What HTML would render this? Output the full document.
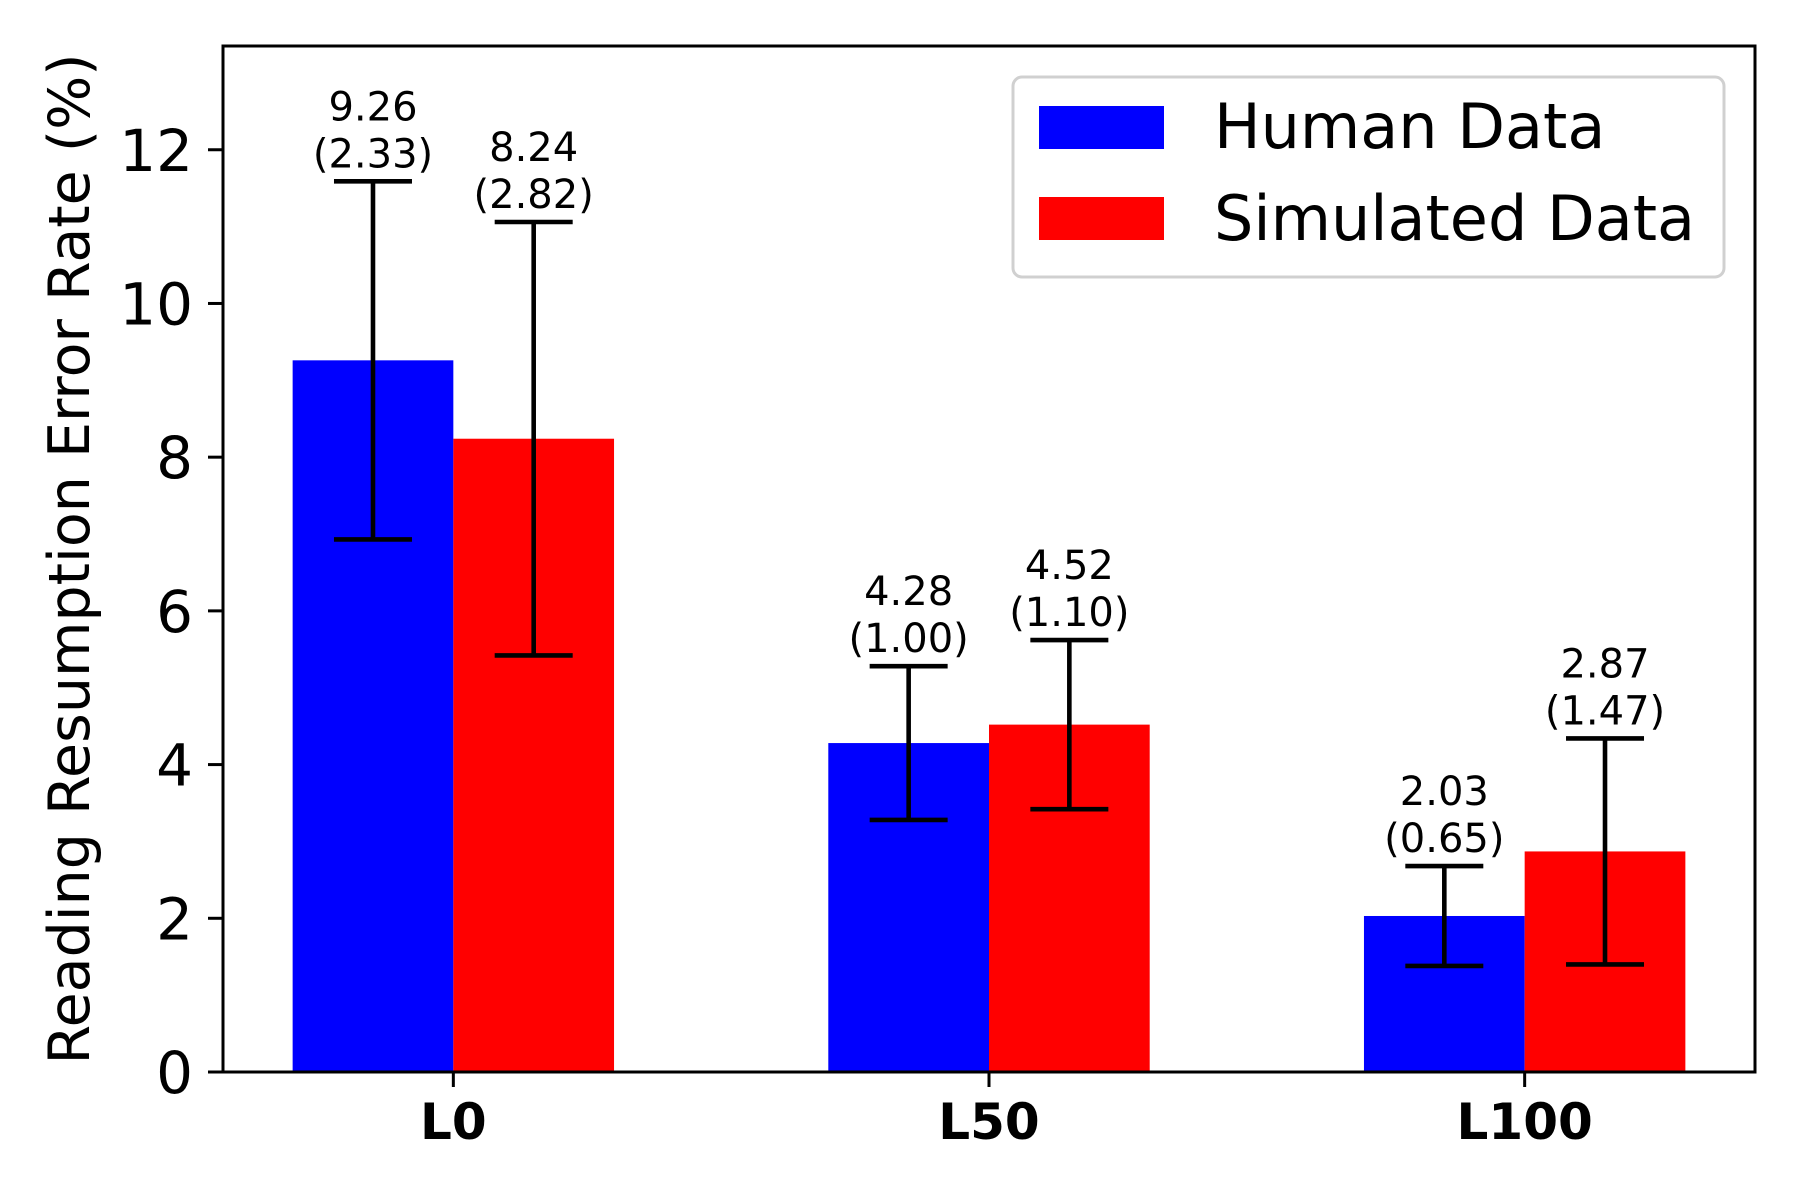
<!DOCTYPE html>
<html><head><meta charset="utf-8"><style>
html,body{margin:0;padding:0;background:#fff;}
svg{display:block;font-family:"DejaVu Sans","Liberation Sans",sans-serif;}
</style></head><body>
<svg id="chart" width="1800" height="1200" viewBox="0 0 1800 1200" xmlns="http://www.w3.org/2000/svg">
<g id="plot"></g>
</svg>
<script>
const categories = ["L0", "L50", "L100"];
const humanMeans = [9.26, 4.28, 2.03];
const humanSds = [2.33, 1.00, 0.65];
const simMeans = [8.24, 4.52, 2.87];
const simSds = [2.82, 1.10, 1.47];
const yTicks = [0, 2, 4, 6, 8, 10, 12];
const seriesNames = ["Human Data", "Simulated Data"];

const NS = "http://www.w3.org/2000/svg";
const L = 223, R = 1755, T = 46, B = 1072;
const xMin = -0.43, xMax = 2.43, yMin = 0, yMax = 13.35;
const xs = v => L + (v - xMin) / (xMax - xMin) * (R - L);
const ys = v => B - (v - yMin) / (yMax - yMin) * (B - T);
const barW = 0.3;
const g = document.getElementById('plot');
function mk(tag, attrs, parent) {
  const e = document.createElementNS(NS, tag);
  for (const k in attrs) e.setAttribute(k, attrs[k]);
  (parent || g).appendChild(e);
  return e;
}

const series = [
  {means: humanMeans, sds: humanSds, color: "#0000ff", off: -barW / 2, key: "human"},
  {means: simMeans, sds: simSds, color: "#ff0000", off: barW / 2, key: "simulated"}
];
series.forEach(s => {
  s.means.forEach((m, i) => {
    const cx = i + s.off;
    const r = mk('rect', {x: xs(cx - barW / 2), y: ys(m), width: xs(cx + barW / 2) - xs(cx - barW / 2), height: ys(0) - ys(m), fill: s.color});
    
    
  });
});
series.forEach(s => {
  s.means.forEach((m, i) => {
    const cx = xs(i + s.off);
    const top = ys(m + s.sds[i]), bot = ys(m - s.sds[i]);
    const eg = mk('g', {stroke: "#000", "stroke-width": 4.6});
    
    
    mk('line', {x1: cx, x2: cx, y1: top, y2: bot}, eg);
    mk('line', {x1: cx - 39, x2: cx + 39, y1: top, y2: top}, eg);
    mk('line', {x1: cx - 39, x2: cx + 39, y1: bot, y2: bot}, eg);
    const t = mk('text', {x: cx, y: top - 14, "text-anchor": "middle", "font-size": 40, fill: "#000"});
    
    
    const t1 = mk('tspan', {x: cx, dy: -47}, t); t1.textContent = m.toFixed(2);
    const t2 = mk('tspan', {x: cx, dy: 47}, t); t2.textContent = '(' + s.sds[i].toFixed(2) + ')';
  });
});

const fr = mk('rect', {x: L, y: T, width: R - L, height: B - T, fill: "none", stroke: "#000", "stroke-width": 3});



yTicks.forEach(v => {
  const y = ys(v);
  const tl = mk('line', {x1: L - 15, x2: L, y1: y, y2: y, stroke: "#000", "stroke-width": 3});
  
  
  const tx = mk('text', {x: L - 30, y: y + 21, "text-anchor": "end", "font-size": 58, fill: "#000"});
  
  
  tx.textContent = v;
});
categories.forEach((c, i) => {
  const x = xs(i);
  const tl = mk('line', {x1: x, x2: x, y1: B, y2: B + 15, stroke: "#000", "stroke-width": 3});
  
  
  const tx = mk('text', {x: x, y: 1139, "text-anchor": "middle", "font-size": 50, "font-weight": "bold", fill: "#000"});
  
  
  tx.textContent = c;
});

const yl = mk('text', {x: 0, y: 0, transform: "translate(89," + ((T + B) / 2) + ") rotate(-90)", "text-anchor": "middle", "font-size": 57, fill: "#000"});


yl.textContent = "Reading Resumption Error Rate (%)";

const lg = mk('g', {});


mk('rect', {x: 1013, y: 77, width: 711, height: 200, rx: 9, fill: "#fff", "fill-opacity": 0.8, stroke: "#d0d0d0", "stroke-width": 3}, lg);
seriesNames.forEach((n, i) => {
  const e = mk('g', {}, lg);
  
  
  mk('rect', {x: 1039, y: 106 + i * 91, width: 125, height: 43, fill: series[i].color}, e);
  const t = mk('text', {x: 1214, y: 148 + i * 92, "font-size": 62, fill: "#000"}, e);
  t.textContent = n;
});
</script>
</body></html>
